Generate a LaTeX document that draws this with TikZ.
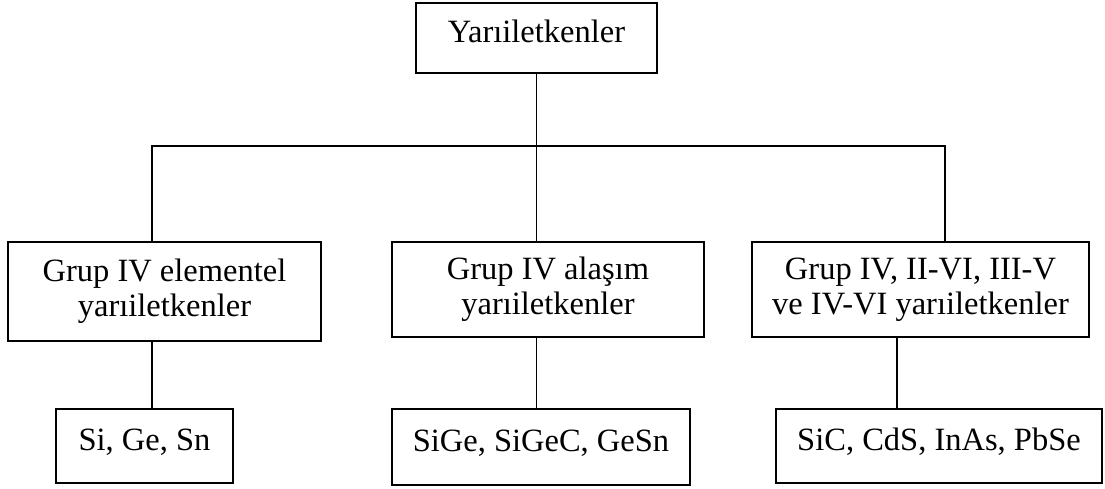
\documentclass[tikz,border=0pt]{standalone}
\usepackage{fontspec}
\setmainfont{Liberation Serif}
\usetikzlibrary{positioning}

\begin{document}
\begin{tikzpicture}[x=1pt, y=-1pt,
  kutu/.style = {draw, shape = rectangle, line width = 1.8pt, inner sep = 0pt, align = center, font = \fontsize{32.5}{35}\selectfont},
  tek/.style = {kutu, text height = 22pt, text depth = 13pt},
  hat/.style = {line width = 1.8pt}]
\useasboundingbox (0,0) rectangle (1105,488);
\node[tek, minimum width = 241pt, minimum height = 70pt] (yari) at (536.5,38) {Yarıiletkenler};
\node[kutu, minimum width = 313pt, minimum height = 99pt] (g1) at (164.5,291.5) {Grup IV elementel\\yarıiletkenler};
\node[kutu, minimum width = 312pt, minimum height = 95pt] (g2) at (548,289.5) {Grup IV alaşım\\yarıiletkenler};
\node[kutu, minimum width = 337pt, minimum height = 95pt] (g3) at (920.5,289.5) {Grup IV, II-VI, III-V\\ve IV-VI yarıiletkenler};
\node[tek, minimum width = 177pt, minimum height = 74pt] (e1) at (144.5,446) {Si, Ge, Sn};
\node[tek, minimum width = 298pt, minimum height = 76pt] (e2) at (541,447) {SiGe, SiGeC, GeSn};
\node[tek, minimum width = 326pt, minimum height = 74pt] (e3) at (939,446) {SiC, CdS, InAs, PbSe};
\coordinate (j1) at (152,146);
\coordinate (j3) at (945,146);
\coordinate (d3) at (897,400);
\begin{scope}[hat]
\draw (yari.south) -- (yari.south |- g2.north);
\draw (j1 |- g1.north) -- (j1) -- (j3) -- (j3 |- g3.north);
\draw (g1.south -| j1) -- (e1.north -| j1);
\draw (g2.south -| yari) -- (e2.north -| yari);
\draw (g3.south -| d3) -- (e3.north -| d3);
\end{scope}
\end{tikzpicture}
\end{document}
